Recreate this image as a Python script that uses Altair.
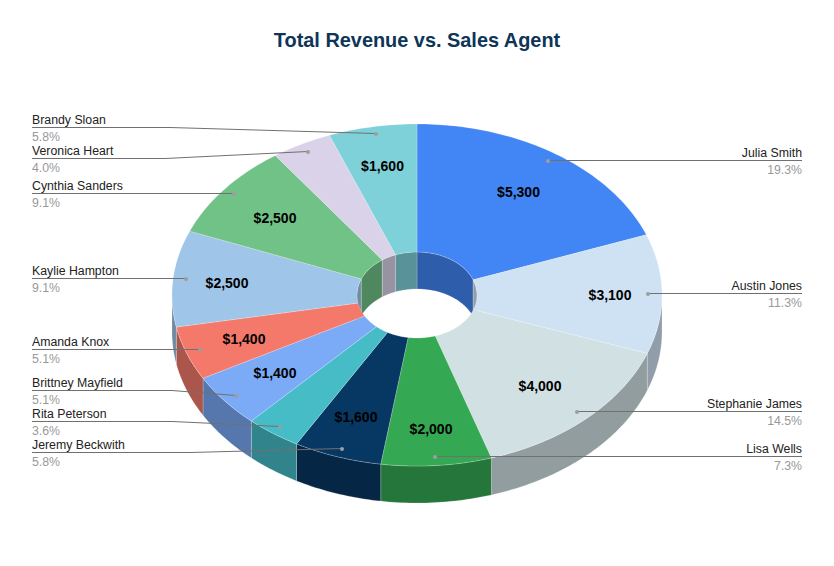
import math
import altair as alt

agents = ["Julia Smith", "Austin Jones", "Stephanie James", "Lisa Wells", "Jeremy Beckwith", "Rita Peterson",
          "Brittney Mayfield", "Amanda Knox", "Kaylie Hampton", "Cynthia Sanders", "Veronica Heart", "Brandy Sloan"]
revenue = [5300, 3100, 4000, 2000, 1600, 1000, 1400, 1400, 2500, 2500, 1100, 1600]
colors = ["#4285F4", "#CFE2F3", "#D0E0E3", "#34A853", "#073763", "#46BDC6",
          "#7BAAF7", "#F4796B", "#9FC5E8", "#71C287", "#D9D2E9", "#7FD1D9"]

# layout (screen pixels)
CX, CY, RX, RY, IRX, IRY, DEPTH = 417, 295, 245, 171, 60, 43, 37
value_label_pos = {0: (518.5, 193), 1: (610, 296), 2: (540, 387), 3: (431, 430), 4: (356, 417.5),
                   6: (275, 373.5), 7: (244, 340), 8: (227, 284), 9: (275, 219), 11: (382.5, 166.5)}
# rule y, elbow x (None = straight), anchor dot, side
leaders = {11: (128, 170, (376, 134), "l"), 10: (159, 165, (308, 152), "l"), 9: (194, None, (234, 194), "l"),
           8: (279, None, (186, 279), "l"), 7: (350, None, (200, 350), "l"), 6: (391, 172, (236, 396), "l"),
           5: (422, 172, (280, 427), "l"), 4: (453, 190, (342, 449), "l"), 0: (161, None, (548, 161), "r"),
           1: (294, None, (648, 294), "r"), 2: (412, None, (577, 412), "r"), 3: (457, None, (435, 457), "r")}
LEFT_X, RIGHT_X = 32, 802

total = sum(revenue)


def shade(hexcol, f=0.7):
    return "#" + "".join(f"{round(int(hexcol[i:i+2], 16) * f):02x}" for i in (1, 3, 5))


def pt(theta, rx, ry, dy=0):
    return [CX + rx * math.sin(theta), CY - ry * math.cos(theta) + dy]


def arc(a, b, rx, ry, dy=0):
    n = max(2, int(abs(b - a) / math.radians(1)) + 1)
    return [pt(a + (b - a) * i / n, rx, ry, dy) for i in range(n + 1)]


def poly(ring, color):
    return {"type": "Feature", "properties": {"color": color},
            "geometry": {"type": "Polygon", "coordinates": [ring + [ring[0]]]}}


def line(coords):
    return {"type": "Feature", "properties": {},
            "geometry": {"type": "LineString", "coordinates": coords}}


top, outer, inner = [], [], []
cum = 0
for v, c in zip(revenue, colors):
    a = cum / total * 2 * math.pi
    cum += v
    b = cum / total * 2 * math.pi
    top.append(poly(arc(a, b, RX, RY) + arc(b, a, IRX, IRY), c))
    # outer wall: visible on the front half (90..270 deg)
    lo, hi = max(a, math.pi / 2), min(b, 3 * math.pi / 2)
    if lo < hi:
        outer.append(poly(arc(lo, hi, RX, RY) + arc(hi, lo, RX, RY, DEPTH), shade(c)))
    # inner wall: visible on the back half (270..90 deg through 0)
    for lo, hi in ((max(a, 0), min(b, math.pi / 2)), (max(a, 3 * math.pi / 2), min(b, 2 * math.pi))):
        if lo < hi:
            inner.append(poly(arc(lo, hi, IRX, IRY) + arc(hi, lo, IRX, IRY, DEPTH), shade(c)))

leader_lines, dots, names, pcts = [], [], [], []
for i, (ry_, elbow, dot, side) in leaders.items():
    start = LEFT_X if side == "l" else RIGHT_X
    coords = [[start, ry_ - 0.5]] + ([[elbow, ry_ - 0.5]] if elbow else []) + [[dot[0], dot[1] - 0.5]]
    leader_lines.append(line(coords))
    dots.append({"lon": dot[0], "lat": dot[1]})
    rec = {"lon": start, "side": side}
    names.append({**rec, "lat": ry_ - 4, "t": agents[i]})
    pcts.append({**rec, "lat": ry_ + 13, "t": f"{revenue[i] / total * 100:.1f}%"})

value_labels = [{"lon": p[0], "lat": p[1], "t": f"${revenue[i]:,}"} for i, p in value_label_pos.items()]

proj = dict(type="identity", scale=1, translate=[-8, -8])


def geo(features):
    return alt.Chart(alt.InlineData(values=features, format=alt.DataFormat(type="json")))


def walls(features, **kw):
    return geo(features).mark_geoshape(strokeWidth=0.6, stroke="#ffffff", strokeOpacity=0.35, **kw).encode(
        fill=alt.Fill("properties.color:N", scale=None)).project(**proj)


ll = geo(leader_lines).mark_geoshape(filled=False, stroke="#707070", strokeWidth=1).project(**proj)
dot_layer = alt.Chart(alt.Data(values=dots)).mark_circle(size=16, color="#9e9e9e", opacity=1).encode(
    longitude="lon:Q", latitude="lat:Q").project(**proj)


def side_text(rows, side, color):
    return alt.Chart(alt.Data(values=[r for r in rows if r["side"] == side])).mark_text(
        font="Liberation Sans", fontSize=12.3, color=color, baseline="alphabetic",
        align="left" if side == "l" else "right").encode(
        longitude="lon:Q", latitude="lat:Q", text="t:N").project(**proj)


val_text = alt.Chart(alt.Data(values=value_labels)).mark_text(
    font="Liberation Sans", fontSize=14, fontWeight="bold", color="#000000", baseline="middle", align="center"
).encode(longitude="lon:Q", latitude="lat:Q", text="t:N").project(**proj)

title_layer = alt.Chart(alt.Data(values=[{"lon": CX, "lat": 47, "t": "Total Revenue vs. Sales Agent"}])).mark_text(
    font="Liberation Sans", fontSize=19.9, fontWeight="bold", color="#0D3557", baseline="alphabetic", align="center"
).encode(longitude="lon:Q", latitude="lat:Q", text="t:N").project(**proj)

chart = alt.layer(
    walls(inner), walls(outer), walls(top), ll, dot_layer,
    side_text(names, "l", "#222222"), side_text(names, "r", "#222222"),
    side_text(pcts, "l", "#999999"), side_text(pcts, "r", "#999999"),
    val_text, title_layer,
).properties(width=818, height=550, padding=0, background="#ffffff",
             autosize=alt.AutoSizeParams(type="none")).configure_view(stroke=None)

chart.save("out.html", embed_options={"renderer": "svg", "actions": False})
